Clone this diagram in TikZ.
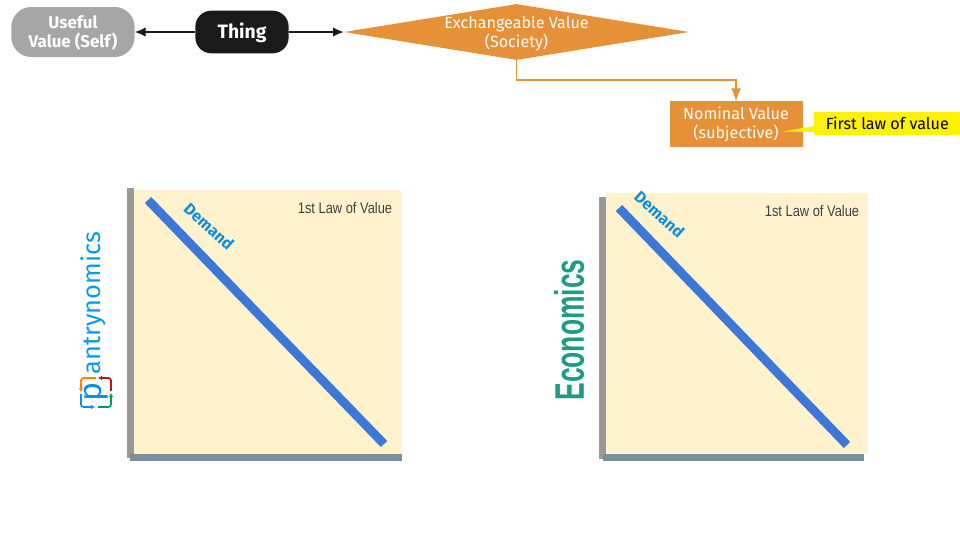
\documentclass[tikz,border=0pt]{standalone}
\usepackage{fontspec}
\setmainfont{Fira Sans}
\newfontfamily\condfont{Liberation Sans}
\usetikzlibrary{shapes.geometric,arrows.meta}
\definecolor{orangeC}{HTML}{E69138}
\definecolor{creamC}{HTML}{FFF2CC}
\definecolor{lineC}{HTML}{3C78D8}
\definecolor{axisV}{HTML}{999999}
\definecolor{axisH}{HTML}{78909C}
\definecolor{inkC}{HTML}{1A1A1A}
\definecolor{greyC}{HTML}{A6A6A6}
\definecolor{demandC}{HTML}{0B8FDF}
\definecolor{econC}{HTML}{1F9B85}
\tikzset{
  x=0.75pt,y=-0.75pt,
  txt/.style={align=center,inner sep=0pt,font=\fontsize{12.1}{14.25}\selectfont},
  pill/.style={txt,fill=#1,font=\fontsize{12.7}{14.25}\selectfont\bfseries},
  arrowK/.style={draw=inkC,line width=0.9pt,-{Latex[length=8pt,width=7pt]}},
  arrowO/.style={draw=orangeC,line width=1.1pt,-{Latex[length=9.5pt,width=7.5pt]}},
  demandT/.style={inner sep=0pt,text=demandC,rotate=-42,font=\fontsize{12}{14}\selectfont\bfseries},
  lawT/.style={inner sep=0pt,text=black!75,font=\fontsize{11.5}{14}\condfont},
  curve/.style={draw=lineC,line width=6.6pt},
  cream/.style={fill=creamC},
  vaxis/.style={fill=axisV},
  haxis/.style={fill=axisH},
  onShape/.style={align=center,inner sep=0pt,text=white}
}
\begin{document}
\begin{tikzpicture}
\useasboundingbox (0,0) rectangle (960,540);
% top row
\node[pill=greyC,rounded corners=15pt,minimum width=92.5pt,minimum height=37.5pt] (useful) at (73,32) {};
\node[onShape,font=\fontsize{12.7}{14.25}\selectfont\bfseries] (usefulT) at (73,33) {Useful\\Value (Self)};
\node[pill=inkC,rounded corners=12pt,minimum width=70pt,minimum height=32pt] (thing) at (242,32) {};
\node[onShape,font=\fontsize{14.5}{16}\selectfont\bfseries] (thingT) at (242,32.5) {Thing};
\node[txt,diamond,aspect=6.16,fill=orangeC,minimum width=258.75pt,minimum height=42pt] (exch) at (516.5,32) {};
\node[onShape,font=\fontsize{12.1}{14.25}\selectfont] (exchT) at (516.5,33.5) {Exchangeable Value\\(Society)};
\node[txt,fill=orangeC,text=white,minimum width=99.75pt,minimum height=34pt] (nominal) at (736,124) {Nominal Value\\(subjective)};
\coordinate (bend) at (516.5,80);
\draw[arrowK] (thing.west) -- (useful.east);
\draw[arrowK] (thing.east) -- (exch.west);
\draw[arrowO] (exch.south) -- (bend) -| (nominal.north);
% callout
\fill[yellow] (814,126) -- (783,131.5) -- (814,132) -- cycle;
\node[txt,fill=yellow,text=black,minimum width=109.5pt,minimum height=17.25pt,anchor=west] (law) at (814,123.5) {First law of value};
% chart 1
\fill[cream] (134,190) rectangle (401,454);
\fill[vaxis] (127,188) rectangle (134,458);
\fill[haxis] (130,453.5) rectangle (402,461);
\draw[curve] (148,200) -- (384,444);
\node[demandT] (d1) at (209,226) {Demand};
\node[lawT] (l1) at (345,208) {\scalebox{0.84}[1]{1st Law of Value}};
% chart 2
\fill[cream] (606,193) rectangle (868,453);
\fill[vaxis] (599,197) rectangle (606,459);
\fill[haxis] (603,454) rectangle (864,461);
\draw[curve] (619,208) -- (847,445);
\node[demandT] (d2) at (659.5,214) {Demand};
\node[lawT] (l2) at (812,211) {\scalebox{0.84}[1]{1st Law of Value}};
% side labels
\node[inner sep=0pt,rotate=90,text=econC,font=\fontsize{31}{36}\condfont\bfseries] (econ) at (569,330) {\scalebox{0.64}[1]{Economics}};
\node[inner sep=0pt,rotate=90,text=demandC!90!cyan,font=\fontsize{19}{22}\selectfont] (pan) at (93,303) {antrynomics};
\node[inner sep=0pt,rotate=90,text=demandC,font=\fontsize{24}{28}\selectfont] (logo) at (96,392) {p};
\draw[orange,line width=1.3pt,-{Latex[length=3pt,width=3.5pt]},rounded corners=2pt] (96,378) -- (81,378) -- (81,392);
\draw[demandC,line width=1.3pt,-{Latex[length=3pt,width=3.5pt]},rounded corners=2pt] (81,394) -- (81,407) -- (95,407);
\draw[teal!80!green,line width=1.3pt,-{Latex[length=3pt,width=3.5pt]},rounded corners=2pt] (98,407) -- (111,407) -- (111,393);
\draw[red!70!black!90,line width=1.3pt,-{Latex[length=3pt,width=3.5pt]},rounded corners=2pt] (111,391) -- (111,378) -- (98,378);
\end{tikzpicture}
\end{document}
